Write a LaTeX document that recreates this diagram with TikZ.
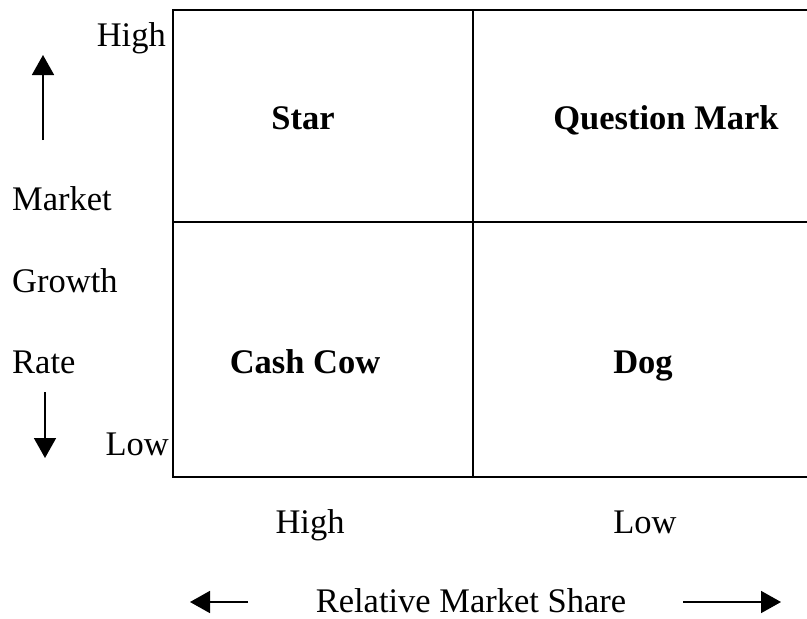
\documentclass[tikz,border=0pt]{standalone}
\usepackage{fontspec}
\setmainfont{Liberation Serif}
\usetikzlibrary{arrows.meta}
\begin{document}
\begin{tikzpicture}[x=1pt,y=-1pt,
  lbl/.style={font=\fontsize{34.5}{38}\selectfont, inner sep=0pt},
  quad/.style={font=\fontsize{34.5}{38}\selectfont\bfseries, inner sep=0pt, anchor=base},
  gridline/.style={line width=2pt},
  axisarrow/.style={line width=1.7pt, -{Triangle[length=20pt,width=22pt]}}]
\useasboundingbox (0,0) rectangle (807,619);

% matrix grid
\coordinate (tl) at (173,10);
\coordinate (tr) at (807,10);
\coordinate (ml) at (173,222);
\coordinate (mr) at (807,222);
\coordinate (bl) at (173,477);
\coordinate (br) at (807,477);
\coordinate (tm) at (473,10);
\coordinate (bm) at (473,477);
\draw[gridline] (tr) -- (tl) -- (bl) -- (br);
\draw[gridline] (ml) -- (mr);
\draw[gridline] (tm) -- (bm);

% quadrant names
\node[quad] (star) at (303,129) {Star};
\node[quad] (qmark) at (666,129) {Question Mark};
\node[quad] (cow) at (305,373) {Cash Cow};
\node[quad] (dog) at (643,373) {Dog};

% vertical axis
\node[lbl, anchor=base east] (yhigh) at (166,46) {High};
\node[lbl, anchor=base east] (ylow) at (169,455) {Low};
\node[lbl, anchor=base west] (ymarket) at (12,210) {Market};
\node[lbl, anchor=base west] (ygrowth) at (12,292) {Growth};
\node[lbl, anchor=base west] (yrate) at (12,373) {Rate};
\coordinate (upfrom) at (43,140);
\coordinate (upto) at (43,55);
\coordinate (downfrom) at (45,392);
\coordinate (downto) at (45,458);
\draw[axisarrow] (upfrom) -- (upto);
\draw[axisarrow] (downfrom) -- (downto);

% horizontal axis
\node[lbl, anchor=base] (xhigh) at (310,533) {High};
\node[lbl, anchor=base] (xlow) at (645,533) {Low};
\node[lbl, anchor=base] (xtitle) at (471,612) {Relative Market Share};
\coordinate (leftfrom) at (248,602);
\coordinate (leftto) at (190,602);
\coordinate (rightfrom) at (683,602);
\coordinate (rightto) at (781,602);
\draw[axisarrow] (leftfrom) -- (leftto);
\draw[axisarrow] (rightfrom) -- (rightto);
\end{tikzpicture}
\end{document}
